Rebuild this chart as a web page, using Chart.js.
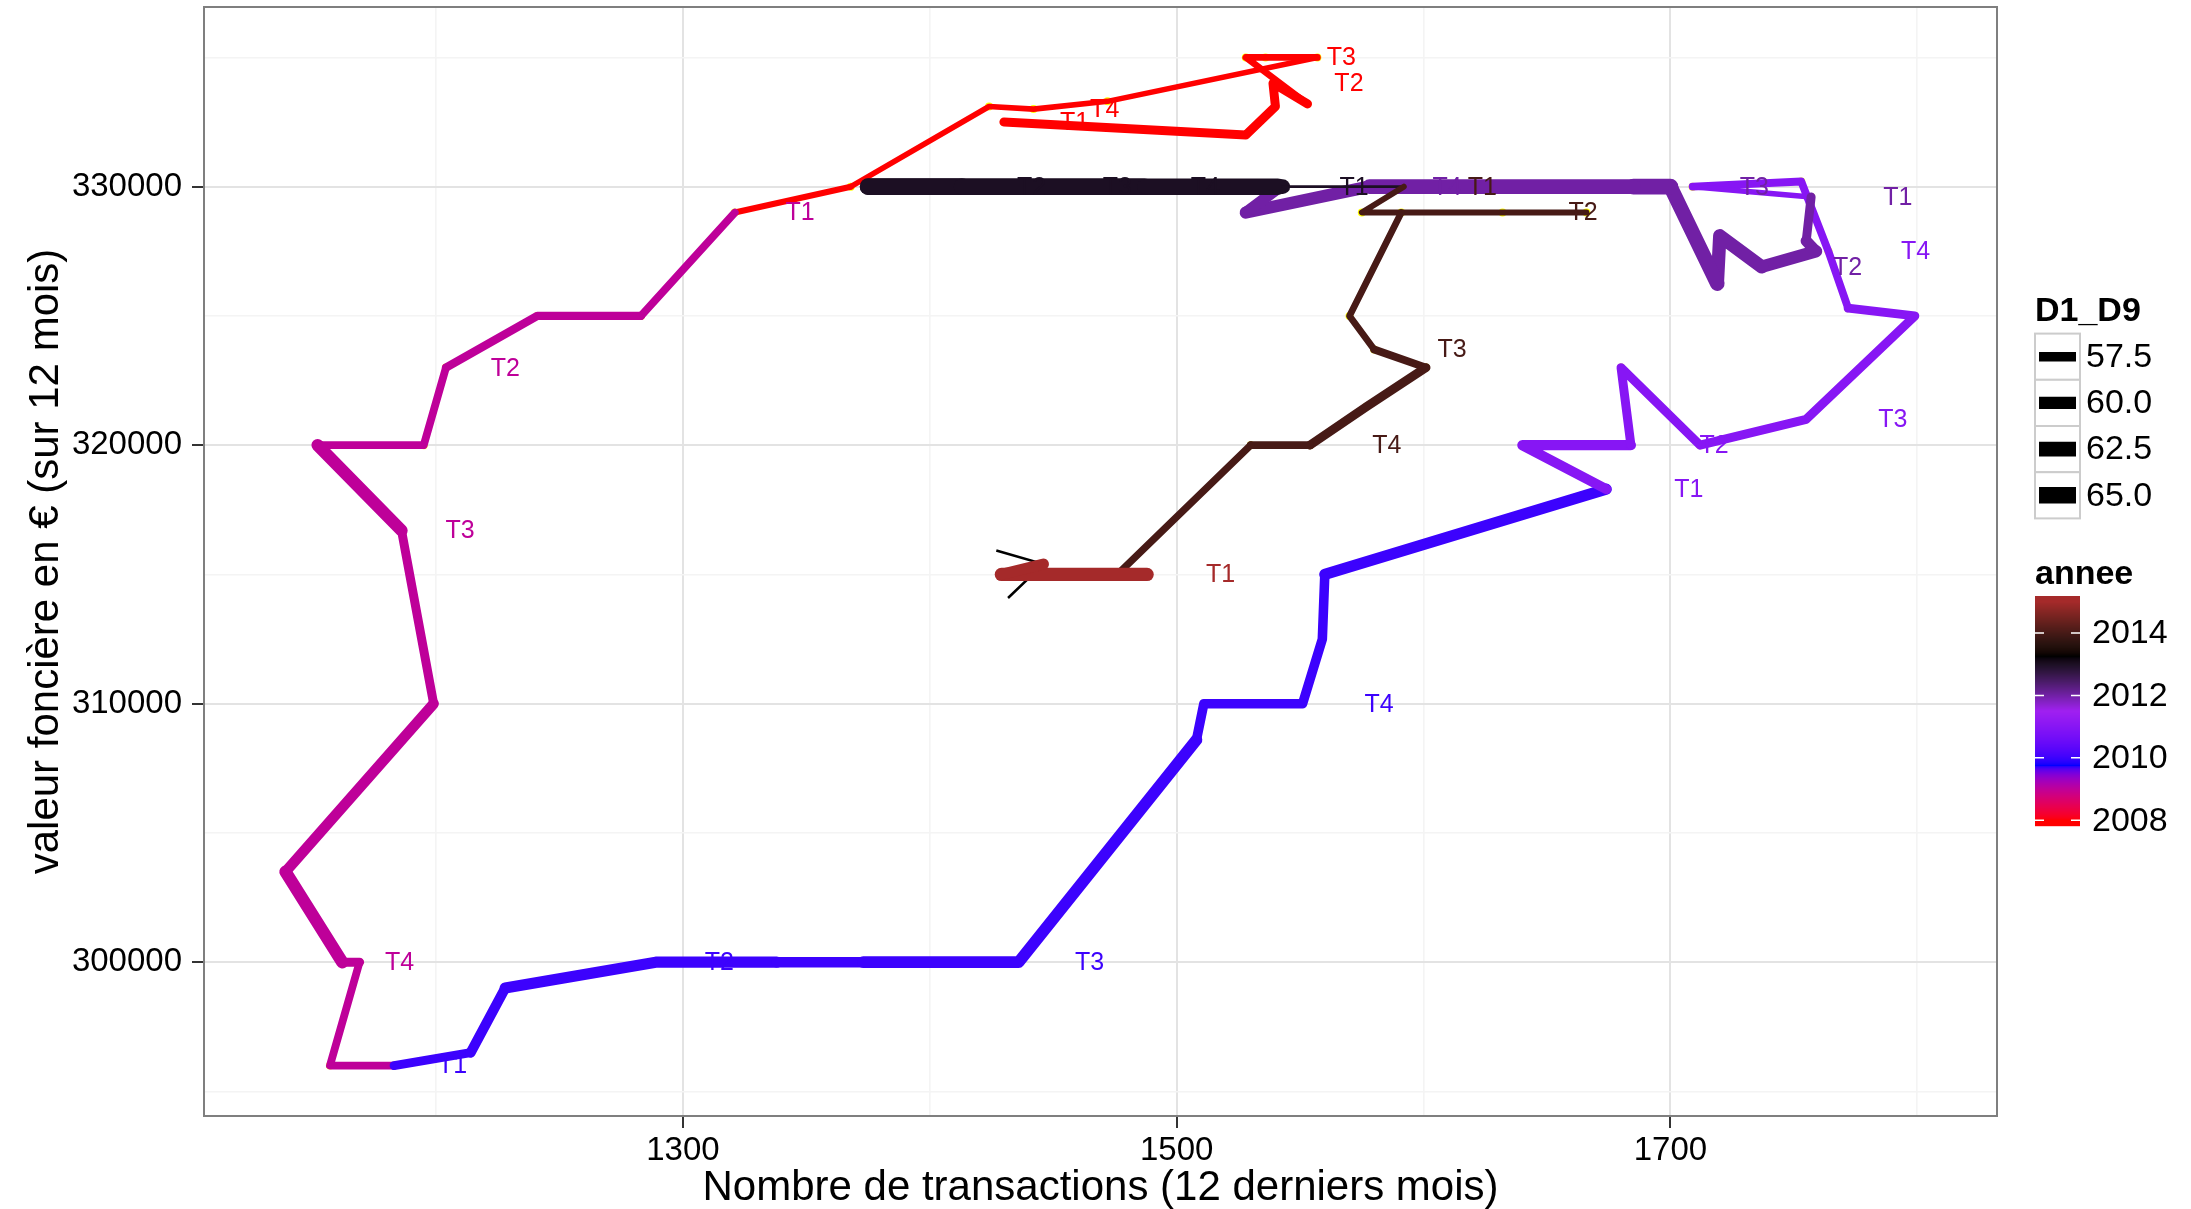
<!DOCTYPE html>
<html lang="fr">
<head>
<meta charset="UTF-8" />
<title>Valeur foncière / nombre de transactions</title>
<script src="https://cdn.jsdelivr.net/npm/chart.js@4.4.0/dist/chart.umd.min.js"></script>
<style>
  html, body { margin: 0; padding: 0; background: #fff; }
  canvas { display: block; }
</style>
</head>
<body>
<canvas id="chart" width="2191" height="1209" style="width:2191px;height:1209px"></canvas>
<script>
// une ligne par année (mois 1 à 12)
const annee = [
  2008, 2008, 2008, 2008, 2008, 2008, 2008, 2008, 2008, 2008, 2008, 2008,
  2009, 2009, 2009, 2009, 2009, 2009, 2009, 2009, 2009, 2009, 2009, 2009,
  2010, 2010, 2010, 2010, 2010, 2010, 2010, 2010, 2010, 2010, 2010, 2010,
  2011, 2011, 2011, 2011, 2011, 2011, 2011, 2011, 2011, 2011, 2011, 2011,
  2012, 2012, 2012, 2012, 2012, 2012, 2012, 2012, 2012, 2012, 2012, 2012,
  2013, 2013, 2013, 2013, 2013, 2013, 2013, 2013, 2013, 2013, 2013, 2013,
  2014, 2014, 2014, 2014, 2014, 2014, 2014, 2014, 2014, 2014, 2014, 2014,
  2015, 2015, 2015
];
const mois = [
  1, 2, 3, 4, 5, 6, 7, 8, 9, 10, 11, 12,
  1, 2, 3, 4, 5, 6, 7, 8, 9, 10, 11, 12,
  1, 2, 3, 4, 5, 6, 7, 8, 9, 10, 11, 12,
  1, 2, 3, 4, 5, 6, 7, 8, 9, 10, 11, 12,
  1, 2, 3, 4, 5, 6, 7, 8, 9, 10, 11, 12,
  1, 2, 3, 4, 5, 6, 7, 8, 9, 10, 11, 12,
  1, 2, 3, 4, 5, 6, 7, 8, 9, 10, 11, 12,
  1, 2, 3
];
// nombre de transactions (12 derniers mois)
const nbTransactions = [
  1430, 1528, 1540, 1539, 1553, 1528, 1536, 1557, 1472, 1442, 1424, 1368,
  1321, 1283, 1241, 1204, 1195, 1152, 1186, 1199, 1139, 1162, 1169, 1157,
  1183, 1214, 1228, 1289, 1338, 1373, 1436, 1508, 1511, 1551, 1559, 1560,
  1674, 1640, 1655, 1684, 1680, 1712, 1755, 1799, 1772, 1764, 1753, 1709,
  1757, 1755, 1759, 1737, 1720, 1719, 1700, 1685, 1640, 1578, 1528, 1542,
  1541, 1450, 1375, 1413, 1425, 1436, 1447, 1460, 1472, 1482, 1487, 1543,
  1592, 1575, 1666, 1632, 1591, 1570, 1580, 1601, 1577, 1554, 1530, 1476,
  1488, 1429, 1446
];
// valeur foncière en € (sur 12 mois)
const valeurFonciere = [
  332500, 332000, 333100, 334000, 333200, 335000, 335000, 335000, 333300, 333000, 333100, 330000,
  329000, 325000, 325000, 323000, 320000, 320000, 316700, 310000, 303500, 300000, 300000, 296000,
  296000, 296500, 299000, 300000, 300000, 300000, 300000, 308600, 310000, 310000, 312500, 315000,
  318300, 320000, 320000, 320000, 323000, 320000, 321000, 325000, 325300, 327500, 330200, 330000,
  329600, 327900, 327500, 326900, 328100, 326250, 330000, 330000, 330000, 330000, 329000, 330000,
  330000, 330000, 330000, 330000, 330000, 330000, 330000, 330000, 330000, 330000, 330000, 330000,
  330000, 329000, 329000, 329000, 329000, 325000, 323700, 323000, 321500, 320000, 320000, 315000,
  315000, 315000, 315400
];
// rapport D1_D9
const d1d9 = [
  57.2, 57.2, 57.2, 57.2, 56.0, 56.0, 56.0, 55.6, 55.6, 55.6, 55.6, 55.8,
  56.5, 56.8, 56.8, 56.5, 56.5, 60.0, 57.2, 58.4, 60.0, 57.2, 56.5, 56.5,
  57.2, 58.0, 58.9, 58.9, 58.4, 59.4, 59.4, 57.6, 57.6, 57.6, 57.6, 58.9,
  58.0, 58.0, 58.0, 57.2, 57.2, 57.2, 57.2, 57.2, 56.5, 56.5, 56.5, 55.6,
  57.2, 58.9, 60.0, 61.1, 61.1, 62.5, 63.9, 62.5, 62.5, 60.0, 58.9, 58.9,
  65.0, 65.0, 65.5, 65.0, 65.0, 65.0, 65.0, 65.0, 65.0, 65.0, 62.5, 55.2,
  55.7, 55.7, 55.7, 55.7, 56.0, 56.0, 56.5, 57.2, 57.2, 56.5, 56.2, 56.2,
  61.1, 58.9, 58.9
];
const trimestres = { 1: 'T1', 4: 'T2', 7: 'T3', 10: 'T4' };
const decalageEtiquette = 1.02; // étiquettes placées en x * 1.02

const graduationsX = [1200, 1300, 1400, 1500, 1600, 1700, 1800];
const majeursX = [1300, 1500, 1700];
const graduationsY = [295000, 300000, 305000, 310000, 315000, 320000, 325000, 330000, 335000];
const majeursY = [300000, 310000, 320000, 330000];
const clesD1D9 = [57.5, 60.0, 62.5, 65.0];
const clesAnnee = [2008, 2010, 2012, 2014];

const police = "'Liberation Sans', Arial, sans-serif";

// ---- échelle de couleur (gradientn rouge, bleu, violet, noir, marron ; interpolation Lab)
const couleursAnnee = ['#ff0000', '#0000ff', '#a020f0', '#000000', '#a52a2a'];
const anneeMin = Math.min(...annee), anneeMax = Math.max(...annee);

function hexVersLab(hex) {
  const c = [1, 3, 5].map(k => parseInt(hex.substr(k, 2), 16) / 255)
    .map(v => v <= 0.04045 ? v / 12.92 : Math.pow((v + 0.055) / 1.055, 2.4));
  const X = (0.4124564 * c[0] + 0.3575761 * c[1] + 0.1804375 * c[2]) / 0.95047;
  const Y = 0.2126729 * c[0] + 0.7151522 * c[1] + 0.0721750 * c[2];
  const Z = (0.0193339 * c[0] + 0.1191920 * c[1] + 0.9503041 * c[2]) / 1.08883;
  const f = t => t > 0.008856 ? Math.cbrt(t) : 7.787 * t + 16 / 116;
  return [116 * f(Y) - 16, 500 * (f(X) - f(Y)), 200 * (f(Y) - f(Z))];
}
function labVersRgb(L, a, b) {
  const fy = (L + 16) / 116, fx = fy + a / 500, fz = fy - b / 200;
  const inv = t => t * t * t > 0.008856 ? t * t * t : (t - 16 / 116) / 7.787;
  const X = inv(fx) * 0.95047, Y = inv(fy), Z = inv(fz) * 1.08883;
  const lin = [
    3.2404542 * X - 1.5371385 * Y - 0.4985314 * Z,
    -0.9692660 * X + 1.8760108 * Y + 0.0415560 * Z,
    0.0556434 * X - 0.2040259 * Y + 1.0572252 * Z
  ];
  const rgb = lin.map(v => {
    v = v <= 0.0031308 ? 12.92 * v : 1.055 * Math.pow(Math.max(v, 0), 1 / 2.4) - 0.055;
    return Math.round(Math.min(1, Math.max(0, v)) * 255);
  });
  return 'rgb(' + rgb.join(',') + ')';
}
const labAnnee = couleursAnnee.map(hexVersLab);
function couleurAnnee(an) {
  let t = (an - anneeMin) / (anneeMax - anneeMin);
  t = Math.min(1, Math.max(0, t)) * (labAnnee.length - 1);
  const i = Math.min(labAnnee.length - 2, Math.floor(t));
  const f = t - i;
  const p = labAnnee[i], q = labAnnee[i + 1];
  return labVersRgb(p[0] + (q[0] - p[0]) * f, p[1] + (q[1] - p[1]) * f, p[2] + (q[2] - p[2]) * f);
}

// ---- échelle de taille (aire) pour D1_D9
const dMin = Math.min(...d1d9), dMax = Math.max(...d1d9);
function largeur(d) {
  return 2.8 * (1 + 5 * Math.sqrt(Math.max(0, (d - dMin) / (dMax - dMin))));
}

// ---- limites des axes (étendue des données + 5 %)
const indicesEtiquettes = mois.map((m, i) => trimestres[m] ? i : -1).filter(i => i >= 0);
const tousX = nbTransactions.concat(indicesEtiquettes.map(i => nbTransactions[i] * decalageEtiquette));
const xBas = Math.min(...tousX), xHaut = Math.max(...tousX);
const yBas = Math.min(...valeurFonciere), yHaut = Math.max(...valeurFonciere);
const xMarge = 0.05 * (xHaut - xBas), yMarge = 0.05 * (yHaut - yBas);

const points = nbTransactions.map((x, i) => ({ x: x, y: valeurFonciere[i] }));

// flèche (noire, fine) à la fin du chemin, sous le tracé
const flechePlugin = {
  id: 'fleche',
  beforeDatasetsDraw(chart) {
    const { ctx, scales: { x, y } } = chart;
    const n = points.length;
    const x1 = x.getPixelForValue(points[n - 2].x), y1 = y.getPixelForValue(points[n - 2].y);
    const x2 = x.getPixelForValue(points[n - 1].x), y2 = y.getPixelForValue(points[n - 1].y);
    const ang = Math.atan2(y2 - y1, x2 - x1);
    const L = 49, ouv = Math.PI / 6;
    ctx.save();
    ctx.strokeStyle = '#000';
    ctx.lineWidth = 2.5;
    ctx.beginPath();
    ctx.moveTo(x2 - L * Math.cos(ang - ouv), y2 - L * Math.sin(ang - ouv));
    ctx.lineTo(x2, y2);
    ctx.lineTo(x2 - L * Math.cos(ang + ouv), y2 - L * Math.sin(ang + ouv));
    ctx.stroke();
    ctx.restore();
  }
};

// étiquettes T1..T4 + cadre du panneau
const etiquettesPlugin = {
  id: 'etiquettes',
  afterDatasetsDraw(chart) {
    const { ctx, chartArea: a, scales: { x, y } } = chart;
    ctx.save();
    ctx.beginPath();
    ctx.rect(a.left, a.top, a.right - a.left, a.bottom - a.top);
    ctx.clip();
    ctx.font = '25px ' + police;
    ctx.textAlign = 'center';
    ctx.textBaseline = 'middle';
    indicesEtiquettes.forEach(i => {
      ctx.fillStyle = couleurAnnee(annee[i]);
      ctx.fillText(trimestres[mois[i]],
        x.getPixelForValue(nbTransactions[i] * decalageEtiquette),
        y.getPixelForValue(valeurFonciere[i]) + 1);
    });
    ctx.restore();
    ctx.save();
    ctx.strokeStyle = '#7f7f7f';
    ctx.lineWidth = 2;
    ctx.strokeRect(a.left, a.top, a.right - a.left, a.bottom - a.top);
    ctx.restore();
  }
};

// légendes D1_D9 (épaisseurs) et annee (barre de couleur)
const legendesPlugin = {
  id: 'legendes',
  afterDraw(chart) {
    const ctx = chart.ctx;
    const gx = 2035, cle = 45, hCle = 46.2;
    ctx.save();
    ctx.fillStyle = '#000';
    ctx.textBaseline = 'middle';
    ctx.textAlign = 'left';
    ctx.font = 'bold 34px ' + police;
    ctx.fillText('D1_D9', gx, 312);

    let y0 = 333.6;
    clesD1D9.forEach((d, k) => {
      const yt = y0 + k * hCle;
      ctx.fillStyle = '#fff';
      ctx.fillRect(gx, yt, cle, hCle);
      ctx.strokeStyle = '#cccccc';
      ctx.lineWidth = 2;
      ctx.strokeRect(gx, yt, cle, hCle);
      ctx.strokeStyle = '#000';
      ctx.lineWidth = largeur(d);
      ctx.lineCap = 'butt';
      ctx.beginPath();
      ctx.moveTo(gx + 4, yt + hCle / 2);
      ctx.lineTo(gx + cle - 4, yt + hCle / 2);
      ctx.stroke();
      ctx.fillStyle = '#000';
      ctx.font = '34px ' + police;
      ctx.fillText(d.toFixed(1), gx + 51, yt + hCle / 2 + 1);
    });

    ctx.font = 'bold 34px ' + police;
    ctx.fillText('annee', gx, 575);

    const bHaut = 596, bBas = 826, demiCase = (bBas - bHaut) / 40;
    const pxAn = (bBas - bHaut - 2 * demiCase) / (anneeMax - anneeMin);
    const anVersY = an => bBas - demiCase - (an - anneeMin) * pxAn;
    for (let yy = bHaut; yy < bBas; yy++) {
      const an = anneeMin + (bBas - demiCase - (yy + 0.5)) / pxAn;
      ctx.fillStyle = couleurAnnee(an);
      ctx.fillRect(gx, yy, cle, 1.2);
    }
    ctx.strokeStyle = '#ffffff';
    ctx.lineWidth = 1.5;
    ctx.font = '34px ' + police;
    clesAnnee.forEach(an => {
      const yy = anVersY(an);
      ctx.beginPath();
      ctx.moveTo(gx, yy); ctx.lineTo(gx + 9, yy);
      ctx.moveTo(gx + cle - 9, yy); ctx.lineTo(gx + cle, yy);
      ctx.stroke();
      ctx.fillStyle = '#000';
      ctx.fillText(String(an), gx + 57, yy + 1);
    });
    ctx.restore();
  }
};

const grille = (majeurs) => ({
  color: c => majeurs.includes(c.tick.value) ? '#e3e3e3' : '#f4f4f4',
  lineWidth: c => majeurs.includes(c.tick.value) ? 2 : 1.6,
  tickColor: c => majeurs.includes(c.tick.value) ? '#333333' : 'rgba(0,0,0,0)',
  tickLength: 12,
  tickWidth: 2
});

new Chart(document.getElementById('chart'), {
  type: 'scatter',
  data: {
    datasets: [
      {
        label: 'chemin',
        data: points,
        showLine: true,
        pointRadius: 0,
        pointHoverRadius: 0,
        borderColor: '#000',
        borderWidth: 6,
        borderCapStyle: 'round',
        borderJoinStyle: 'round',
        order: 1,
        segment: {
          borderColor: c => couleurAnnee(annee[c.p0DataIndex]),
          borderWidth: c => largeur(d1d9[c.p0DataIndex])
        }
      },
      {
        label: 'points',
        data: points,
        showLine: false,
        pointRadius: 4,
        pointHoverRadius: 4,
        pointBackgroundColor: '#ffff00',
        pointBorderWidth: 0,
        order: 2
      }
    ]
  },
  options: {
    responsive: false,
    animation: false,
    devicePixelRatio: 1,
    layout: { padding: { top: 7, right: 194, left: 0, bottom: 0 } },
    plugins: { legend: { display: false }, tooltip: { enabled: false } },
    scales: {
      x: {
        type: 'linear',
        min: xBas - xMarge,
        max: xHaut + xMarge,
        afterBuildTicks: s => { s.ticks = graduationsX.map(v => ({ value: v })); },
        afterFit: s => { s.height = 93; s.paddingLeft = 0; s.paddingRight = 0; },
        border: { display: false },
        grid: grille(majeursX),
        ticks: {
          autoSkip: false,
          maxRotation: 0,
          padding: 6,
          color: '#000',
          font: { family: police, size: 33, lineHeight: 1 },
          callback: v => majeursX.includes(v) ? String(v) : ''
        },
        title: {
          display: true,
          text: 'Nombre de transactions (12 derniers mois)',
          color: '#000',
          font: { family: police, size: 42, lineHeight: 1 },
          padding: 0
        }
      },
      y: {
        type: 'linear',
        min: yBas - yMarge,
        max: yHaut + yMarge,
        afterBuildTicks: s => { s.ticks = graduationsY.map(v => ({ value: v })); },
        afterFit: s => { s.width = 204; s.paddingTop = 0; s.paddingBottom = 0; },
        border: { display: false },
        grid: grille(majeursY),
        ticks: {
          autoSkip: false,
          padding: 10,
          color: '#000',
          font: { family: police, size: 33, lineHeight: 1 },
          callback: v => majeursY.includes(v) ? String(v) : ''
        },
        title: {
          display: true,
          text: 'valeur foncière en € (sur 12 mois)',
          color: '#000',
          font: { family: police, size: 42, lineHeight: 1.2 },
          padding: { top: 21, bottom: 0 }
        }
      }
    }
  },
  plugins: [flechePlugin, etiquettesPlugin, legendesPlugin]
});
</script>
</body>
</html>
